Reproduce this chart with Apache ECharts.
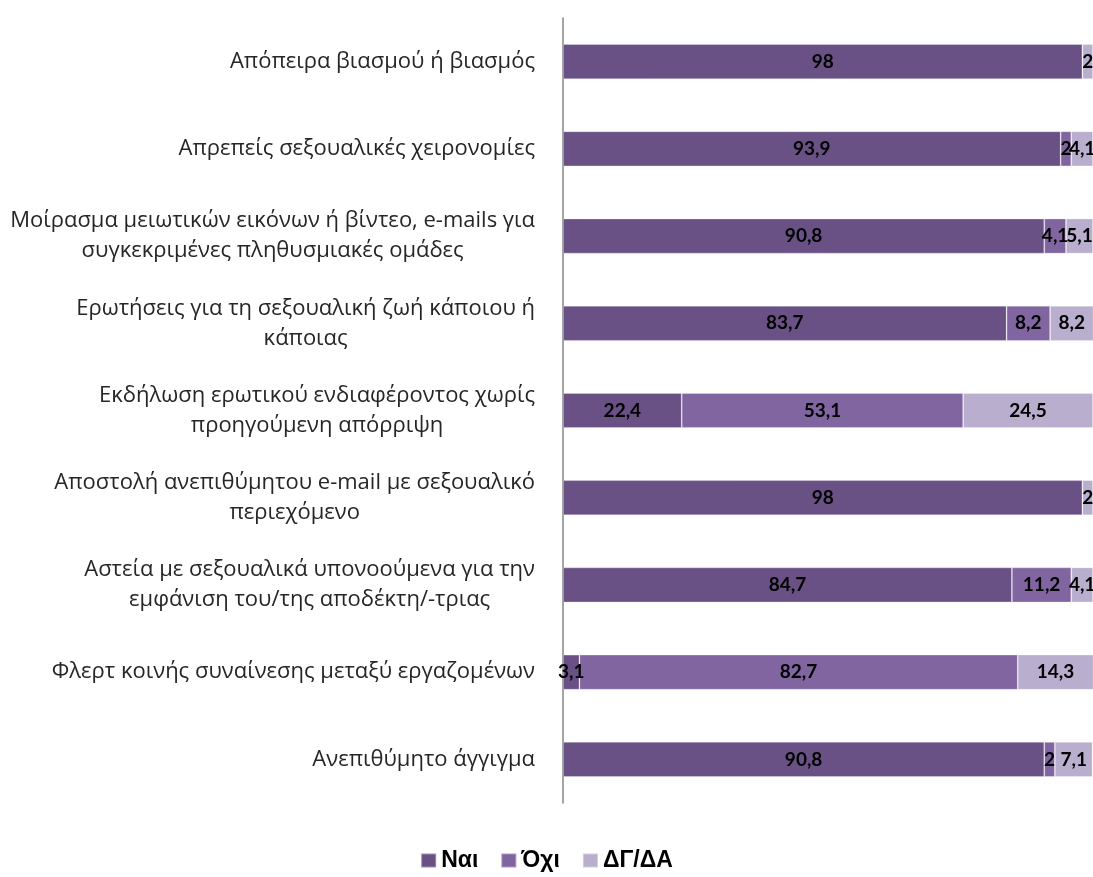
<!DOCTYPE html>
<html>
<head>
<meta charset="utf-8">
<script src="https://cdn.jsdelivr.net/npm/echarts@6/dist/echarts.min.js"></script>
<style>
  html, body { margin: 0; padding: 0; background: #fff; }
  #chart { width: 1093px; height: 877px; }
</style>
</head>
<body>
<div id="chart"></div>
<script>
// Survey items (top to bottom); "\n" marks the line breaks of the wrapped names
const categories = [
  'Απόπειρα βιασμού ή βιασμός',
  'Απρεπείς σεξουαλικές χειρονομίες',
  'Μοίρασμα μειωτικών εικόνων ή βίντεο, e-mails για\nσυγκεκριμένες πληθυσμιακές ομάδες',
  'Ερωτήσεις για τη σεξουαλική ζωή κάποιου ή\nκάποιας',
  'Εκδήλωση ερωτικού ενδιαφέροντος χωρίς\nπροηγούμενη απόρριψη',
  'Αποστολή ανεπιθύμητου e-mail με σεξουαλικό\nπεριεχόμενο',
  'Αστεία με σεξουαλικά υπονοούμενα για την\nεμφάνιση του/της αποδέκτη/-τριας',
  'Φλερτ κοινής συναίνεσης μεταξύ εργαζομένων',
  'Ανεπιθύμητο άγγιγμα'
];

const seriesNames = ['Ναι', 'Όχι', 'ΔΓ/ΔΑ'];

// Percentages per answer
const yesValues  = [98, 93.9, 90.8, 83.7, 22.4, 98, 84.7, 3.1, 90.8];
const noValues   = [0, 2, 4.1, 8.2, 53.1, 0, 11.2, 82.7, 2];
const dkValues   = [2, 4.1, 5.1, 8.2, 24.5, 2, 4.1, 14.3, 7.1];

const colors = ['#695186', '#8065a1', '#b9aecd'];

const chart = echarts.init(document.getElementById('chart'), null, { renderer: 'canvas' });

function makeSeries(name, data, color) {
  return {
    name: name,
    type: 'bar',
    stack: 'total',
    data: data,
    barWidth: 35,
    itemStyle: { color: color, borderColor: 'rgba(255,255,255,0.35)', borderWidth: 0.8 },
    label: {
      show: true,
      position: 'inside',
      color: '#000',
      fontFamily: 'Lato',
      fontWeight: 'bold',
      fontSize: 19,
      formatter: function (p) {
        return p.value ? String(p.value).replace('.', ',') : '';
      }
    },
    emphasis: { disabled: true }
  };
}

chart.setOption({
  animation: false,
  backgroundColor: '#fff',
  grid: { left: 563, right: 0, top: 18, bottom: 74, containLabel: false },
  legend: {
    data: seriesNames,
    bottom: 0,
    left: 'center',
    icon: 'rect',
    itemWidth: 15,
    itemHeight: 14,
    itemGap: 22,
    textStyle: {
      fontFamily: 'Liberation Sans',
      fontWeight: 'bold',
      fontSize: 23,
      color: '#000'
    }
  },
  xAxis: {
    type: 'value',
    min: 0,
    max: 100,
    show: false
  },
  yAxis: {
    type: 'category',
    data: categories,
    inverse: true,
    axisLine: { show: true, lineStyle: { color: '#868686', width: 1.5 } },
    axisTick: { show: false },
    axisLabel: {
      margin: 28,
      align: 'right',
      formatter: function (v) {
        return v.split('\n').map(function (l) { return '{c|' + l + '}'; }).join('\n');
      },
      rich: {
        c: {
          align: 'center',
          fontFamily: 'Open Sans',
          fontSize: 22,
          lineHeight: 30,
          color: '#262626'
        }
      }
    }
  },
  series: [
    makeSeries(seriesNames[0], yesValues, colors[0]),
    makeSeries(seriesNames[1], noValues, colors[1]),
    makeSeries(seriesNames[2], dkValues, colors[2])
  ]
});
</script>
</body>
</html>
